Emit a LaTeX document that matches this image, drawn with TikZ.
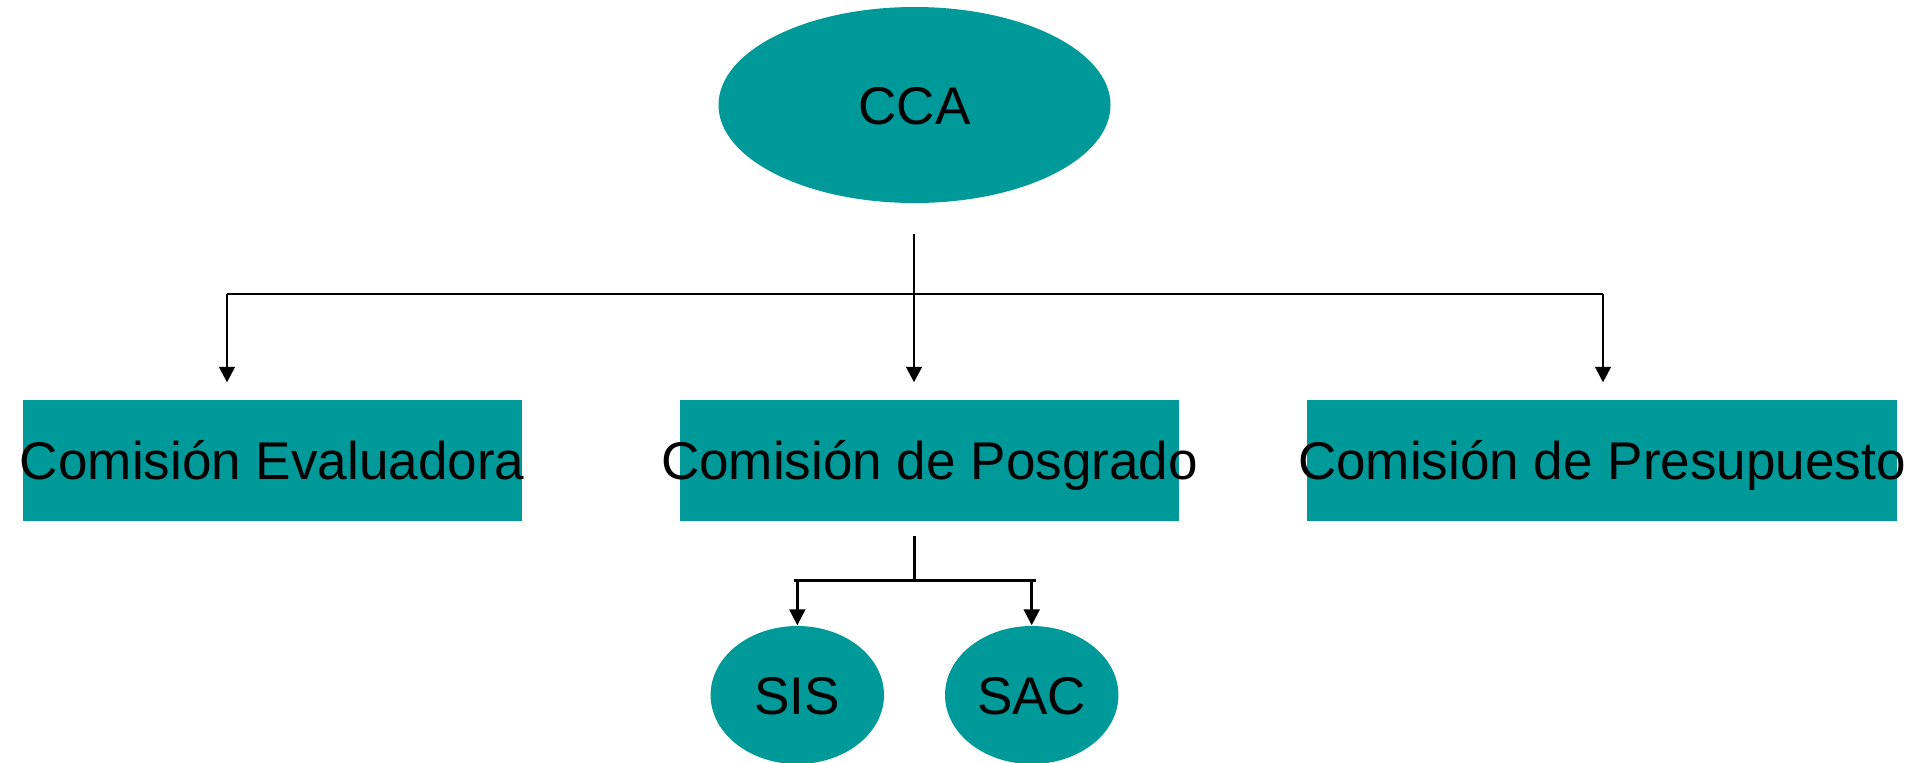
\documentclass[tikz,border=0pt]{standalone}
\usepackage{fontspec}
\setmainfont{Liberation Sans}
\usetikzlibrary{shapes.geometric,arrows.meta}
\definecolor{teal}{RGB}{0,153,153}
\begin{document}
\begin{tikzpicture}[
  lbl/.style={font=\fontsize{15.1pt}{18pt}\selectfont, text=black, inner sep=0pt, text height=0.38cm, text depth=0pt},
  boxnode/.style={lbl, rectangle, fill=teal, minimum height=1.207cm},
  ovalnode/.style={lbl, ellipse, fill=teal},
  conn/.style={line width=0.65pt, draw=black},
  arr/.style={conn, -{Triangle[width=0.157cm,length=0.155cm]}},
  connb/.style={line width=0.85pt, draw=black},
  arrb/.style={connb, -{Triangle[width=0.157cm,length=0.16cm]}}
]
\useasboundingbox (0,0) rectangle (19.15,-7.62);
% nodes
\node[ovalnode, minimum width=3.92cm, minimum height=1.96cm] (cca) at (9.145,-1.05) {CCA};
\node[boxnode, minimum width=4.99cm] (eva) at (2.722,-4.6035) {\makebox[0pt]{Comisión Evaluadora}};
\node[boxnode, minimum width=4.99cm] (pos) at (9.295,-4.6035) {\makebox[0pt]{Comisión de Posgrado}};
\node[boxnode, minimum width=5.897cm] (pre) at (16.019,-4.6035) {\makebox[0pt]{Comisión de Presupuesto}};
\node[ovalnode, minimum width=1.734cm, minimum height=1.38cm] (sis) at (7.973,-6.95) {SIS};
\node[ovalnode, minimum width=1.734cm, minimum height=1.38cm] (sac) at (10.317,-6.95) {SAC};
% junctions
\coordinate (jm) at (9.14,-2.94);
\coordinate (jl) at (2.27,-2.94);
\coordinate (jr) at (16.03,-2.94);
\coordinate (k) at (9.14,-5.807);
\coordinate (kl) at (7.94,-5.807);
\coordinate (kr) at (10.357,-5.807);
% top level connectors
\draw[arr, shorten >=0.17cm] (jm |- cca.south) ++(0,-0.3) -- (jm |- pos.north);
\draw[conn] (jl) -- (jr);
\draw[arr, shorten >=0.17cm] (jl) -- (jl |- eva.north);
\draw[arr, shorten >=0.17cm] (jr) -- (jr |- pre.north);
% second level connectors
\draw[connb, shorten <=0.15cm] (k |- pos.south) -- (k);
\draw[connb] (kl) -- (kr);
\draw[arrb] (sis.north |- k) -- (sis.north);
\draw[arrb] (sac.north |- k) -- (sac.north);
\end{tikzpicture}
\end{document}
